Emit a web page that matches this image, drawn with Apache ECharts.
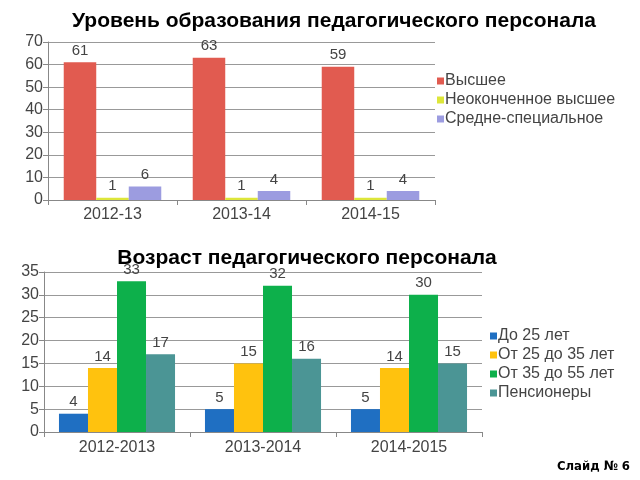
<!DOCTYPE html>
<html><head><meta charset="utf-8">
<script src="https://cdn.jsdelivr.net/npm/echarts@6/dist/echarts.min.js"></script>
<style>html,body{margin:0;padding:0;background:#fff}#c{width:640px;height:480px}</style>
</head><body><div id="c"></div>
<script>
const eduCategories = ['2012-13', '2013-14', '2014-15'];
const eduHigher = [61, 63, 59];
const eduIncomplete = [1, 1, 1];
const eduSecondary = [6, 4, 4];
const eduTicks = [0, 10, 20, 30, 40, 50, 60, 70];

const ageCategories = ['2012-2013', '2013-2014', '2014-2015'];
const ageUnder25 = [4, 5, 5];
const age25to35 = [14, 15, 14];
const age35to55 = [33, 32, 30];
const agePension = [17, 16, 15];
const ageTicks = [0, 5, 10, 15, 20, 25, 30, 35];

const font = 'Liberation Sans, Arial, sans-serif';
const lbl = {show: true, position: 'top', color: '#444', fontSize: 15, fontFamily: font, distance: 4};
const axisTxt = {color: '#444', fontSize: 16, fontFamily: font};

const chart = echarts.init(document.getElementById('c'));
chart.setOption({
  animation: false,
  backgroundColor: '#fff',
  title: [
    {text: 'Уровень образования педагогического персонала', left: 329, top: 6, textAlign: 'center',
     textStyle: {fontFamily: font, fontSize: 21, fontWeight: 'bold', color: '#000'}},
    {text: 'Возраст педагогического персонала', left: 302, top: 243, textAlign: 'center',
     textStyle: {fontFamily: font, fontSize: 21, fontWeight: 'bold', color: '#000'}},
    {text: 'Слайд № 6', left: 625, top: 455, textAlign: 'right',
     textStyle: {fontFamily: "'DejaVu Sans Condensed', 'Liberation Sans Narrow', sans-serif", fontSize: 13, fontWeight: 'bold', color: '#000'}}
  ],
  legend: [
    {orient: 'vertical', left: 432, top: 68, itemWidth: 7, itemHeight: 7, itemGap: 3, icon: 'rect',
     textStyle: {fontFamily: font, fontSize: 16, color: '#444', padding: [0, 0, 0, -4]},
     data: ['Высшее', 'Неоконченное высшее', 'Средне-специальное']},
    {orient: 'vertical', left: 485, top: 323, itemWidth: 7, itemHeight: 7, itemGap: 3, icon: 'rect',
     textStyle: {fontFamily: font, fontSize: 16, color: '#444', padding: [0, 0, 0, -4]},
     data: ['До 25 лет', 'От 25 до 35 лет', 'От 35 до 55 лет', 'Пенсионеры']}
  ],
  grid: [
    {left: 48, right: 205, top: 42, bottom: 280},
    {left: 44, right: 158, top: 272, bottom: 48}
  ],
  xAxis: [
    {type: 'category', gridIndex: 0, data: eduCategories,
     axisLine: {lineStyle: {color: '#888'}}, axisTick: {show: true, lineStyle: {color: '#888'}},
     axisLabel: Object.assign({margin: 7}, axisTxt)},
    {type: 'category', gridIndex: 1, data: ageCategories,
     axisLine: {lineStyle: {color: '#888'}}, axisTick: {show: true, lineStyle: {color: '#888'}},
     axisLabel: Object.assign({margin: 8}, axisTxt)}
  ],
  yAxis: [
    {type: 'value', gridIndex: 0, min: eduTicks[0], max: eduTicks[eduTicks.length - 1], interval: 10,
     axisLine: {show: true, lineStyle: {color: '#888'}}, axisTick: {show: true, lineStyle: {color: '#888'}},
     splitLine: {lineStyle: {color: '#999'}}, axisLabel: Object.assign({margin: 5}, axisTxt)},
    {type: 'value', gridIndex: 1, min: ageTicks[0], max: ageTicks[ageTicks.length - 1], interval: 5,
     axisLine: {show: true, lineStyle: {color: '#888'}}, axisTick: {show: true, lineStyle: {color: '#888'}},
     splitLine: {lineStyle: {color: '#999'}}, axisLabel: Object.assign({margin: 5}, axisTxt)}
  ],
  series: [
    {name: 'Высшее', type: 'bar', xAxisIndex: 0, yAxisIndex: 0, data: eduHigher,
     itemStyle: {color: '#E15B50'}, barGap: '0%', barCategoryGap: '24.4%', label: lbl},
    {name: 'Неоконченное высшее', type: 'bar', xAxisIndex: 0, yAxisIndex: 0, data: eduIncomplete,
     itemStyle: {color: '#DDE63A'}, label: lbl},
    {name: 'Средне-специальное', type: 'bar', xAxisIndex: 0, yAxisIndex: 0, data: eduSecondary,
     itemStyle: {color: '#9C9CE0'}, label: lbl},
    {name: 'До 25 лет', type: 'bar', xAxisIndex: 1, yAxisIndex: 1, data: ageUnder25,
     itemStyle: {color: '#1F6FC2'}, barGap: '0%', barCategoryGap: '20.5%', label: lbl},
    {name: 'От 25 до 35 лет', type: 'bar', xAxisIndex: 1, yAxisIndex: 1, data: age25to35,
     itemStyle: {color: '#FFC20E'}, label: lbl},
    {name: 'От 35 до 55 лет', type: 'bar', xAxisIndex: 1, yAxisIndex: 1, data: age35to55,
     itemStyle: {color: '#0DB04B'}, label: lbl},
    {name: 'Пенсионеры', type: 'bar', xAxisIndex: 1, yAxisIndex: 1, data: agePension,
     itemStyle: {color: '#4B9595'}, label: lbl}
  ]
});
</script></body></html>
